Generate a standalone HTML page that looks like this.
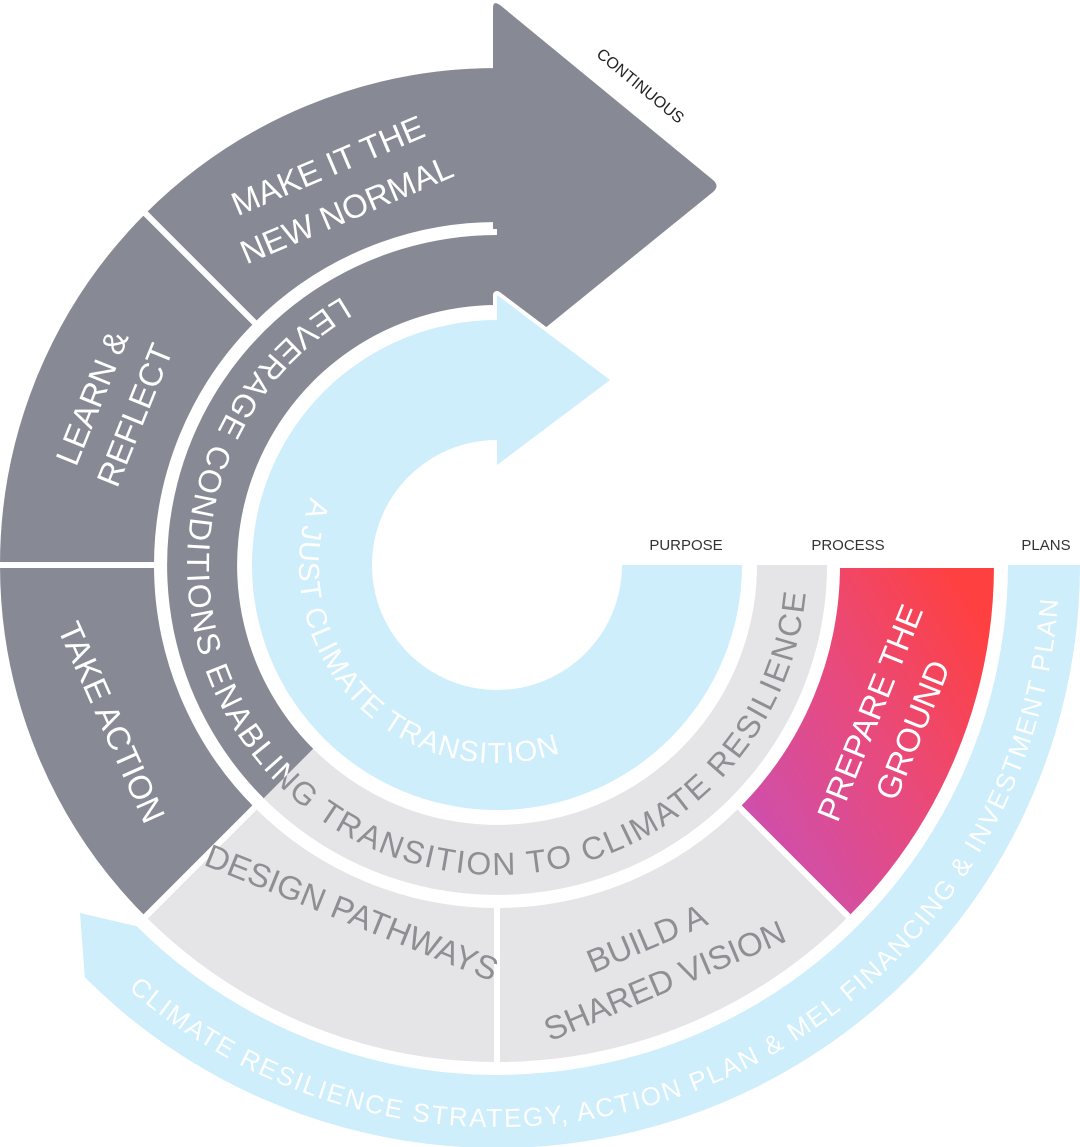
<!DOCTYPE html>
<html><head><meta charset="utf-8"><style>
html,body{margin:0;padding:0;background:#fff;}
svg{display:block;}
text{font-family:"Liberation Sans",sans-serif;}
</style></head><body>
<svg width="1080" height="1147" viewBox="0 0 1080 1147" xmlns="http://www.w3.org/2000/svg">
<defs>
<linearGradient id="rg" x1="740" y1="800" x2="1000" y2="650" gradientUnits="userSpaceOnUse">
<stop offset="0" stop-color="#cf4fab"/><stop offset="0.5" stop-color="#e84a7c"/><stop offset="1" stop-color="#ff4040"/>
</linearGradient>
<path id="pInner" d="M310.9,497.3 A198,198 0 0 0 564.7,751.1"/>
<path id="pMid" d="M342,296.5 A310,310 0 1 0 806.6,581.2"/>
<path id="pPlan" d="M128.3,989.1 A562,562 0 0 0 1058.7,584.6"/>
<clipPath id="cDark"><polygon points="497,565 -103,1165 -103,-100 497,-100"/></clipPath>
<clipPath id="cLight"><polygon points="497,565 497,-100 1200,-100 1200,1200 -103,1165"/></clipPath>
</defs>

<!-- plans band -->
<path d="M1080,565 A583,583 0 0 1 84.8,977.3 L80,913 L136.7,926.3 A511,511 0 0 0 1008,565 Z" fill="#cdeefa"/>

<!-- outer ring segments -->
<g stroke="#fff" stroke-width="6" stroke-linejoin="miter">
<path d="M997,565 A500,500 0 0 1 850.6,918.6 L737.4,805.4 A340,340 0 0 0 837,565 Z" fill="url(#rg)"/>
<path d="M850.6,918.6 A500,500 0 0 1 497,1065 L497,905 A340,340 0 0 0 737.4,805.4 Z" fill="#e5e4e6"/>
<path d="M497,1065 A500,500 0 0 1 143.4,918.6 L256.6,805.4 A340,340 0 0 0 497,905 Z" fill="#e5e4e6"/>
<path d="M143.4,918.6 A500,500 0 0 1 -3,565 L157,565 A340,340 0 0 0 256.6,805.4 Z" fill="#878a95"/>
<path d="M-3,565 A500,500 0 0 1 143.4,211.4 L256.6,324.6 A340,340 0 0 0 157,565 Z" fill="#878a95"/>
<path d="M143.4,211.4 A500,500 0 0 1 497,65 L497,225 A340,340 0 0 0 256.6,324.6 Z" fill="#878a95"/>
</g>

<!-- big arrow -->
<path d="M493,62 L493,8 Q493,0 500,5 L713,180 Q720,186 713,192 L497,367 L497,229 L493,229 Z" fill="#878a95"/>

<!-- middle ring -->
<path d="M827,565 A330,330 0 0 1 263.7,798.3 L313.2,748.8 A260,260 0 0 0 757,565 Z" fill="#e5e4e6"/>
<path d="M263.7,798.3 A330,330 0 0 1 497,235 L497,305 A260,260 0 0 0 313.2,748.8 Z" fill="#878a95"/>

<!-- inner blue ring with arrow -->
<path d="M742,565 A245,245 0 1 1 497,320 L497,295 L610,380 L497,465 L497,440 A125,125 0 1 0 622,565 Z" fill="#cdeefa" stroke="#fff" stroke-width="8" stroke-linejoin="round"/>
<path d="M742,565 A245,245 0 1 1 497,320 L497,295 L610,380 L497,465 L497,440 A125,125 0 1 0 622,565 Z" fill="#cdeefa"/>

<!-- curved texts -->
<text font-size="29" fill="#fff" letter-spacing="1"><textPath href="#pInner" textLength="445" lengthAdjust="spacing">A JUST CLIMATE TRANSITION</textPath></text>
<g clip-path="url(#cDark)"><text font-size="32" fill="#fff"><textPath href="#pMid" textLength="1270" lengthAdjust="spacing">LEVERAGE CONDITIONS ENABLING TRANSITION TO CLIMATE RESILIENCE</textPath></text></g>
<g clip-path="url(#cLight)"><text font-size="32" fill="#8e8e94"><textPath href="#pMid" textLength="1270" lengthAdjust="spacing">LEVERAGE CONDITIONS ENABLING TRANSITION TO CLIMATE RESILIENCE</textPath></text></g>
<text font-size="26" fill="#fff"><textPath href="#pPlan" textLength="1250" lengthAdjust="spacing">CLIMATE RESILIENCE STRATEGY, ACTION PLAN &amp; MEL FINANCING &amp; INVESTMENT PLAN</textPath></text>

<!-- segment labels -->
<g font-size="33" text-anchor="middle">
<g transform="translate(337,187) rotate(-23)" fill="#fff"><text y="-12">MAKE IT THE</text><text y="36">NEW NORMAL</text></g>
<g transform="translate(110,405) rotate(-68)" fill="#fff"><text y="-8">LEARN &amp;</text><text y="38">REFLECT</text></g>
<g transform="translate(112,722) rotate(66)" fill="#fff"><text y="12">TAKE ACTION</text></g>
<g transform="translate(352,912) rotate(22)" fill="#8e8e94"><text y="12">DESIGN PATHWAYS</text></g>
<g transform="translate(655,958) rotate(-23)" fill="#8e8e94"><text y="-10">BUILD A</text><text y="36">SHARED VISION</text></g>
<g transform="translate(888,720) rotate(-68)" fill="#fff"><text y="-8">PREPARE THE</text><text y="38">GROUND</text></g>
</g>

<!-- small labels -->
<g font-size="15" fill="#333" text-anchor="middle">
<text x="686" y="550">PURPOSE</text>
<text x="848" y="550">PROCESS</text>
<text x="1046" y="550">PLANS</text>
<text transform="translate(637,90) rotate(39.5)" font-size="16" fill="#222">CONTINUOUS</text>
</g>
</svg>
</body></html>
